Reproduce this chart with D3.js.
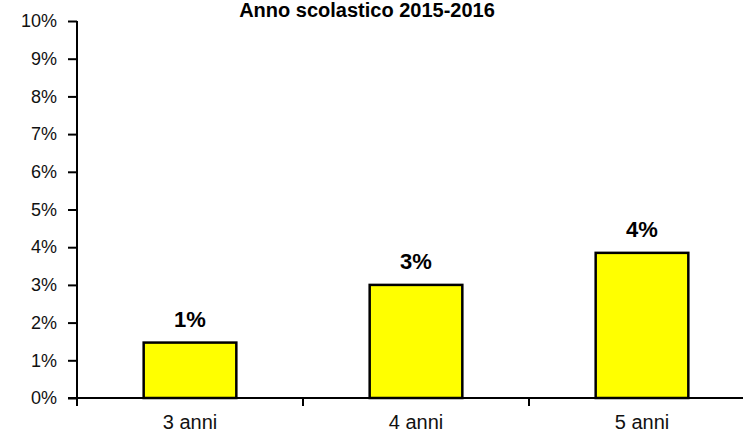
<!DOCTYPE html>
<html>
<head>
<meta charset="utf-8">
<script src="https://cdn.jsdelivr.net/npm/d3@7"></script>
<style>
  body { margin: 0; background: #fff; }
  svg { display: block; font-family: Arial, "Liberation Sans", sans-serif; }
</style>
</head>
<body>
<div id="chart"></div>
<script>
var titleText = "Anno scolastico 2015-2016";
var categories = ["3 anni", "4 anni", "5 anni"];
var values = [0.0147, 0.03, 0.0385];
var yTicks = [0, 0.01, 0.02, 0.03, 0.04, 0.05, 0.06, 0.07, 0.08, 0.09, 0.10];

var width = 743, height = 432;
var margin = {left: 77, top: 21, bottom: 34};

var svg = d3.select('#chart').append('svg')
  .attr("width", width)
  .attr("height", height);

var pct = d3.format(".0%");

// plot runs a bit past the right edge, like the original
var x = d3.scaleBand()
  .domain(categories)
  .range([margin.left, margin.left + 678])
  .padding(0);

var y = d3.scaleLinear()
  .domain([0, 0.10])
  .range([height - margin.bottom, margin.top]);

var barW = x.bandwidth() * 0.41;

// bars
svg.selectAll("rect.bar")
  .data(values)
  .enter().append("rect")
    .attr("class", "bar")
    .attr("x", (d, i) => x(categories[i]) + x.bandwidth() / 2 - barW / 2)
    .attr("y", d => y(d))
    .attr("width", barW)
    .attr("height", d => y(0) - y(d))
    .attr("fill", "#ffff00")
    .attr("stroke", "#000")
    .attr("stroke-width", 2.5);

// value labels
svg.selectAll("text.val")
  .data(values)
  .enter().append("text")
    .attr("class", "val")
    .attr("x", (d, i) => x(categories[i]) + x.bandwidth() / 2)
    .attr("y", d => y(d) - 16)
    .attr("text-anchor", "middle")
    .style("font-size", "22px")
    .style("font-weight", "bold")
    .text(d => pct(d));

// y axis
var yAxis = svg.append("g")
  .attr("transform", "translate(" + margin.left + ",0)")
  .call(d3.axisLeft(y).tickValues(yTicks).tickFormat(pct).tickSize(9).tickPadding(11));
yAxis.select(".domain")
  .attr("d", "M0," + y(0.10) + "V" + (y(0) + 8))
  .attr("stroke-width", 2);
yAxis.selectAll(".tick line").attr("stroke-width", 2);
yAxis.selectAll(".tick text")
  .style("font-size", "18px")
  .attr("fill", "#111");

// x axis with ticks between categories
var xAxis = svg.append("g")
  .attr("transform", "translate(0," + y(0) + ")");
xAxis.append("line")
  .attr("x1", margin.left - 9)
  .attr("x2", width)
  .attr("stroke", "#000")
  .attr("stroke-width", 2);
xAxis.selectAll("line.sep")
  .data(categories.slice(1))
  .enter().append("line")
    .attr("class", "sep")
    .attr("x1", d => x(d))
    .attr("x2", d => x(d))
    .attr("y1", 0)
    .attr("y2", 8)
    .attr("stroke", "#000")
    .attr("stroke-width", 2);
xAxis.selectAll("text")
  .data(categories)
  .enter().append("text")
    .attr("x", d => x(d) + x.bandwidth() / 2)
    .attr("y", 31)
    .attr("text-anchor", "middle")
    .style("font-size", "20px")
    .attr("fill", "#111")
    .text(d => d);

// title
svg.append("text")
  .attr("x", 367)
  .attr("y", 17)
  .attr("text-anchor", "middle")
  .style("font-size", "20px")
  .style("font-weight", "bold")
  .text(titleText);
</script>
</body>
</html>
